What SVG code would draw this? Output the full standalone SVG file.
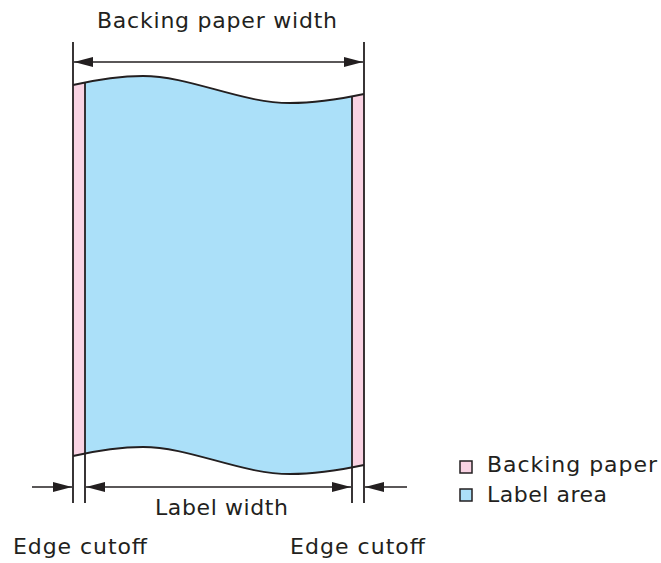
<svg xmlns="http://www.w3.org/2000/svg" width="661" height="563" viewBox="0 0 661 563">
<style>
.t{font-family:"DejaVu Sans","Liberation Sans",sans-serif;font-size:22px;fill:#231f20}
.ln{stroke:#231f20;stroke-width:1.8;fill:none}
.dim{stroke:#231f20;stroke-width:1.6;fill:none}
.key{stroke:#231f20;stroke-width:1.5}
</style>
<defs>
<marker id="ah" viewBox="0 0 19 10" refX="19" refY="5" markerWidth="19" markerHeight="10" markerUnits="userSpaceOnUse" orient="auto-start-reverse">
<path d="M0,0 L19,5 L0,10 Z" fill="#231f20"/>
</marker>
<clipPath id="sheet">
<path d="M73,85 C95,80 120,76 143,76 C190,76 240,103 290,103 C320,103 345,98 364,94 L364,465 C345,469 320,474 290,474 C240,474 190,447 143,447 C120,447 95,451 73,456 Z"/>
</clipPath>
</defs>
<rect width="661" height="563" fill="#ffffff"/>
<g id="backing-paper">
<path d="M73,85 C95,80 120,76 143,76 C190,76 240,103 290,103 C320,103 345,98 364,94 L364,465 C345,469 320,474 290,474 C240,474 190,447 143,447 C120,447 95,451 73,456 Z" fill="#f9d3e3"/>
</g>
<g id="label-area">
<rect x="85" y="0" width="267" height="563" fill="#abe0f9" clip-path="url(#sheet)"/>
</g>
<g id="outlines">
<path class="ln" d="M73,85 C95,80 120,76 143,76 C190,76 240,103 290,103 C320,103 345,98 364,94"/>
<path class="ln" d="M73,456 C95,451 120,447 143,447 C190,447 240,474 290,474 C320,474 345,469 364,465"/>
<line class="ln" x1="73" y1="42" x2="73" y2="503"/>
<line class="ln" x1="364" y1="42" x2="364" y2="503"/>
<line class="ln" x1="85" y1="82" x2="85" y2="503"/>
<line class="ln" x1="352" y1="96.5" x2="352" y2="503"/>
</g>
<g id="connectors">
<line class="dim" x1="74" y1="62" x2="363" y2="62" marker-start="url(#ah)" marker-end="url(#ah)"/>
<line class="dim" x1="86" y1="487" x2="351" y2="487" marker-start="url(#ah)" marker-end="url(#ah)"/>
<line class="dim" x1="32" y1="487" x2="72" y2="487" marker-end="url(#ah)"/>
<line class="dim" x1="407" y1="487" x2="365" y2="487" marker-end="url(#ah)"/>
</g>
<g id="labels">
<text class="t" x="97" y="28" textLength="240" lengthAdjust="spacing">Backing paper width</text>
<text class="t" x="155" y="515" textLength="133" lengthAdjust="spacing">Label width</text>
<text class="t" x="13" y="554" textLength="134" lengthAdjust="spacing">Edge cutoff</text>
<text class="t" x="290" y="554" textLength="135" lengthAdjust="spacing">Edge cutoff</text>
</g>
<g id="legend">
<rect class="key" x="460" y="461" width="12" height="12" fill="#f9d3e3"/>
<text class="t" x="487" y="472" textLength="170" lengthAdjust="spacing">Backing paper</text>
<rect class="key" x="460" y="489" width="12" height="12" fill="#abe0f9"/>
<text class="t" x="487" y="502" textLength="120" lengthAdjust="spacing">Label area</text>
</g>
</svg>
